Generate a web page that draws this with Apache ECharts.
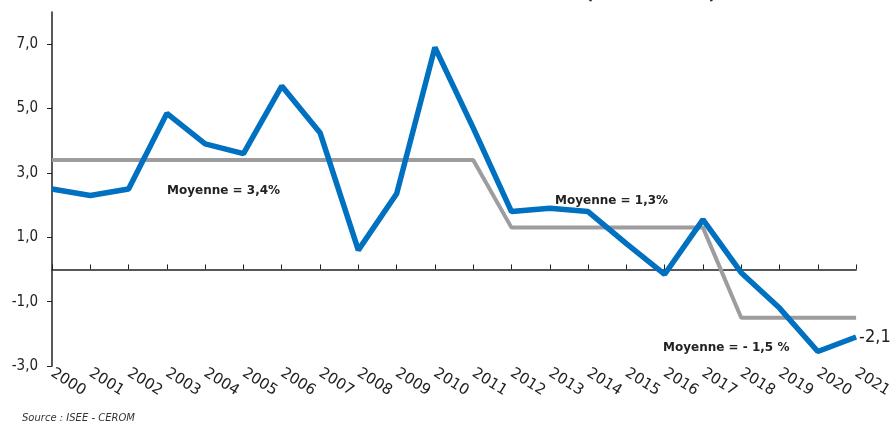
<!DOCTYPE html>
<html><head><meta charset="utf-8">
<script src="https://cdn.jsdelivr.net/npm/echarts@6/dist/echarts.min.js"></script>
<style>html,body{margin:0;padding:0;background:#fff}#c{width:895px;height:425px}</style>
</head><body><div id="c"></div>
<script>
const years = ['2000','2001','2002','2003','2004','2005','2006','2007','2008','2009','2010','2011','2012','2013','2014','2015','2016','2017','2018','2019','2020','2021'];
const growth = [2.5, 2.3, 2.5, 4.85, 3.9, 3.6, 5.7, 4.25, 0.6, 2.35, 6.9, 4.4, 1.8, 1.9, 1.8, 0.8, -0.15, 1.55, -0.1, -1.2, -2.55, -2.1];
const average = [3.4,3.4,3.4,3.4,3.4,3.4,3.4,3.4,3.4,3.4,3.4,3.4,1.3,1.3,1.3,1.3,1.3,1.3,-1.5,-1.5,-1.5,-1.5];
const yTicks = [-3, -1, 1, 3, 5, 7];
const annotations = ['Moyenne = 3,4%', 'Moyenne = 1,3%', 'Moyenne = - 1,5 %'];
const fmt = v => v.toFixed(1).replace('.', ',');

const chart = echarts.init(document.getElementById('c'));
chart.setOption({
  animation: false,
  grid: {left: 52, right: 36, top: 12, bottom: 59},
  xAxis: [{
    type: 'category', data: years, boundaryGap: false, position: 'bottom',
    axisLine: {show: false, onZero: false}, axisTick: {show: false},
    axisLabel: {rotate: -32, margin: 6, fontFamily: 'DejaVu Sans', fontSize: 15, color: '#222'}
  }, {
    type: 'category', data: years, boundaryGap: false, position: 'bottom',
    axisLine: {show: true, onZero: true, lineStyle: {color: '#222', width: 1.5}},
    axisTick: {show: true, inside: true, length: 5, lineStyle: {color: '#222', width: 1}},
    axisLabel: {show: false}
  }],
  yAxis: {
    type: 'value', min: -3, max: 8, interval: 2,
    splitLine: {show: false},
    axisLine: {show: true, lineStyle: {color: '#222', width: 1.5}},
    axisTick: {show: true, length: 5, customValues: yTicks, lineStyle: {color: '#222'}},
    axisLabel: {customValues: yTicks, formatter: fmt, margin: 14, fontFamily: 'DejaVu Sans Condensed', fontSize: 15, color: '#222'}
  },
  series: [{
    type: 'line', data: average, xAxisIndex: 0, symbol: 'none',
    lineStyle: {color: '#9d9d9f', width: 4}, z: 2
  }, {
    type: 'line', data: growth, xAxisIndex: 0, symbol: 'none',
    lineStyle: {color: '#0070c0', width: 5.5}, z: 3,
    endLabel: {show: true, formatter: p => fmt(p.value), distance: 3,
      fontFamily: 'DejaVu Sans Condensed', fontSize: 18, color: '#222'}
  }],
  graphic: [
    {type: 'text', left: 167, top: 185, style: {text: annotations[0], font: 'bold 12px "DejaVu Sans"', fill: '#222'}},
    {type: 'text', left: 555, top: 195, style: {text: annotations[1], font: 'bold 12px "DejaVu Sans"', fill: '#222'}},
    {type: 'text', left: 663, top: 342, style: {text: annotations[2], font: 'bold 12px "DejaVu Sans"', fill: '#222'}},
    {type: 'text', left: 22, top: 413, style: {text: 'Source : ISEE - CEROM', font: 'italic 10px "DejaVu Sans"', fill: '#333'}},
    {type: 'text', left: 586, top: -13, style: {text: '(en volume %)', font: 'bold 16px "DejaVu Sans"', fill: '#222'}}
  ]
});
</script></body></html>
